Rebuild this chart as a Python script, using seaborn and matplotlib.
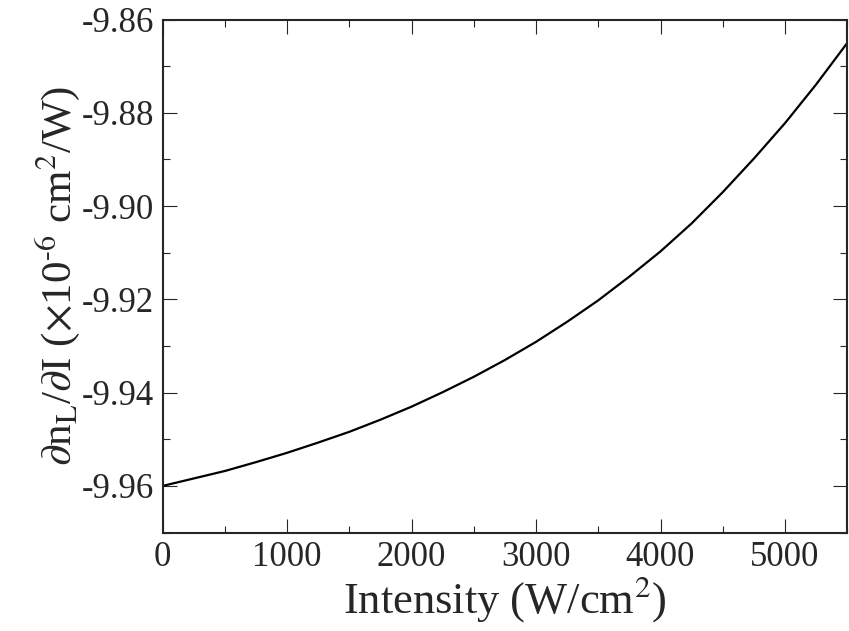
import matplotlib
matplotlib.use("Agg")
import matplotlib.pyplot as plt
from matplotlib.ticker import MultipleLocator, FormatStrFormatter
import seaborn as sns
import pandas as pd

# values
intensity = [0, 250, 500, 750, 1000, 1250, 1500, 1750, 2000, 2250, 2500, 2750,
             3000, 3250, 3500, 3750, 4000, 4250, 4500, 4750, 5000, 5250, 5500]
dn_di = [-9.9600, -9.9584, -9.9568, -9.9549, -9.9529, -9.9507, -9.9484, -9.9458,
         -9.9430, -9.9399, -9.9366, -9.9330, -9.9291, -9.9248, -9.9202, -9.9151,
         -9.9097, -9.9037, -9.8970, -9.8898, -9.8822, -9.8739, -9.8650]

df = pd.DataFrame({"I": intensity, "dn": dn_di})

sns.set_style("ticks")
plt.rcParams["font.family"] = ["Liberation Serif", "DejaVu Serif"]
plt.rcParams["mathtext.fontset"] = "stix"
plt.rcParams["axes.unicode_minus"] = False

fig, ax = plt.subplots(figsize=(8.49, 6.31), dpi=100)
fig.subplots_adjust(left=0.1915, right=0.998, top=0.969, bottom=0.156)

sns.lineplot(data=df, x="I", y="dn", color="black", linewidth=1.6, ax=ax)

ax.set_xlim(0, 5500)
ax.set_ylim(-9.97, -9.86)
ax.xaxis.set_major_locator(MultipleLocator(1000))
ax.xaxis.set_minor_locator(MultipleLocator(500))
ax.yaxis.set_major_locator(MultipleLocator(0.02))
ax.yaxis.set_minor_locator(MultipleLocator(0.01))
ax.yaxis.set_major_formatter(FormatStrFormatter("%.2f"))

ax.tick_params(which="both", direction="in", top=True, right=True, width=0.8,
               labelsize=25, pad=6)
ax.tick_params(which="major", length=10)
ax.tick_params(which="minor", length=5)
for s in ax.spines.values():
    s.set_linewidth(1.5)

ax.set_xlabel(r"Intensity (W/cm$^2$)", fontsize=32, labelpad=0)
ax.set_ylabel(r"$\partial$n$_\mathrm{L}$/$\partial$I ($\times$10$^{\text{-}6}$ cm$^2$/W)",
              fontsize=31, labelpad=0)

fig.savefig("out.png", dpi=100)
